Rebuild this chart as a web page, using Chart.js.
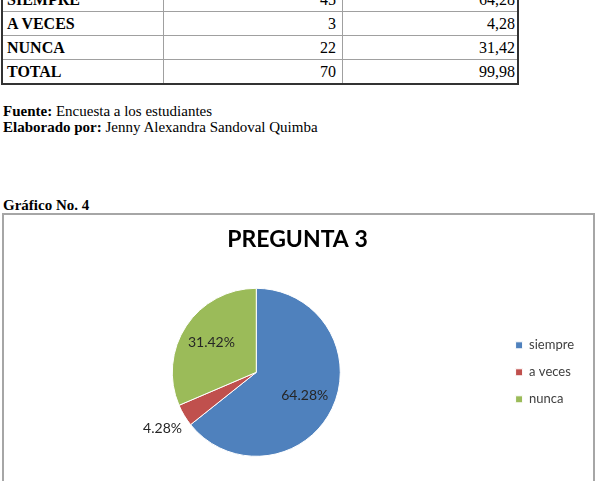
<!DOCTYPE html>
<html>
<head>
<meta charset="utf-8">
<script src="https://cdn.jsdelivr.net/npm/chart.js@4"></script>
<style>
  html, body { margin: 0; padding: 0; background: #fff; }
  body { width: 597px; height: 481px; position: relative; overflow: hidden; font-family: "Liberation Serif", "Times New Roman", serif; color: #000; }
  #tabla { position: absolute; left: 1px; top: -14px; border-collapse: collapse; border: 2px solid #333; }
  #tabla td { border: 1px solid #a0a0a0; height: 23px; padding: 0 4px; font-size: 16px; line-height: 16px; }
  #tabla td.cat { width: 152px; font-weight: bold; text-align: left; }
  #tabla td.num { width: 168px; text-align: right; padding-right: 6px; }
  #tabla td.pct { width: 168px; text-align: right; padding-right: 2px; }
  .nota { position: absolute; left: 3px; font-size: 15px; line-height: 16px; }
  #caja { position: absolute; left: 2px; top: 213px; width: 589px; height: 300px; border: 2px solid #a6a6a6; }
  #lienzo { position: absolute; left: 4px; top: 215px; width: 587px; height: 266px; }
</style>
</head>
<body>
<table id="tabla"></table>
<div class="nota" style="top:103px"><b>Fuente:</b> Encuesta a los estudiantes</div>
<div class="nota" style="top:119px"><b>Elaborado por:</b> Jenny Alexandra Sandoval Quimba</div>
<div class="nota" style="top:197px"><b>Gráfico No. 4</b></div>
<div id="caja"></div>
<div id="lienzo"><canvas id="grafico"></canvas></div>
<script>
// datos de la tabla y del gráfico
const categorias = ["SIEMPRE", "A VECES", "NUNCA"];
const frecuencias = [45, 3, 22];
const porcentajes = [64.28, 4.28, 31.42];
const etiquetas = ["siempre", "a veces", "nunca"];
const colores = ["#4F81BD", "#C0504D", "#9BBB59"];

// tabla
const tabla = document.getElementById("tabla");
const fmt = (v) => v.toFixed(2).replace(".", ",");
categorias.forEach((c, i) => {
  const tr = document.createElement("tr");
  tr.innerHTML = `<td class="cat">${c}</td><td class="num">${frecuencias[i]}</td><td class="pct">${fmt(porcentajes[i])}</td>`;
  tabla.appendChild(tr);
});
const total = document.createElement("tr");
total.innerHTML = `<td class="cat">TOTAL</td><td class="num">${frecuencias.reduce((a, b) => a + b, 0)}</td><td class="pct">${fmt(porcentajes.reduce((a, b) => a + b, 0))}</td>`;
tabla.appendChild(total);

// etiquetas de porcentaje sobre cada sector
const etiquetasSector = {
  id: "etiquetasSector",
  afterDatasetsDraw(chart) {
    const ctx = chart.ctx;
    const meta = chart.getDatasetMeta(0);
    ctx.save();
    ctx.font = "14px Lato, 'Liberation Sans', sans-serif";
    ctx.fillStyle = "#262626";
    ctx.textAlign = "center";
    ctx.textBaseline = "middle";
    meta.data.forEach((arc, i) => {
      const { x, y, startAngle, endAngle, outerRadius } = arc.getProps(["x", "y", "startAngle", "endAngle", "outerRadius"], true);
      const mid = (startAngle + endAngle) / 2;
      const d = porcentajes[i] < 10 ? outerRadius * 1.3 : outerRadius * 0.64;
      ctx.fillText(porcentajes[i].toFixed(2) + "%", x + Math.cos(mid) * d, y + Math.sin(mid) * d);
    });
    ctx.restore();
  }
};

new Chart(document.getElementById("grafico"), {
  type: "pie",
  data: {
    labels: etiquetas,
    datasets: [{
      data: porcentajes,
      backgroundColor: colores,
      borderColor: "#ffffff",
      borderWidth: 1,
      radius: 84
    }]
  },
  options: {
    responsive: true,
    maintainAspectRatio: false,
    animation: false,
    layout: { padding: { left: 7, right: 7, top: 0, bottom: 0 } },
    plugins: {
      title: {
        display: true,
        text: "PREGUNTA 3",
        color: "#000",
        font: { family: "Lato, 'Liberation Sans', sans-serif", size: 23, weight: "bold" },
        padding: { top: 11, bottom: 10 }
      },
      legend: {
        position: "right",
        fullSize: false,
        labels: {
          boxWidth: 7,
          boxHeight: 7,
          padding: 14,
          color: "#404040",
          font: { family: "Lato, 'Liberation Sans', sans-serif", size: 13 }
        }
      },
      tooltip: { enabled: false }
    }
  },
  plugins: [etiquetasSector]
});
</script>
</body>
</html>
